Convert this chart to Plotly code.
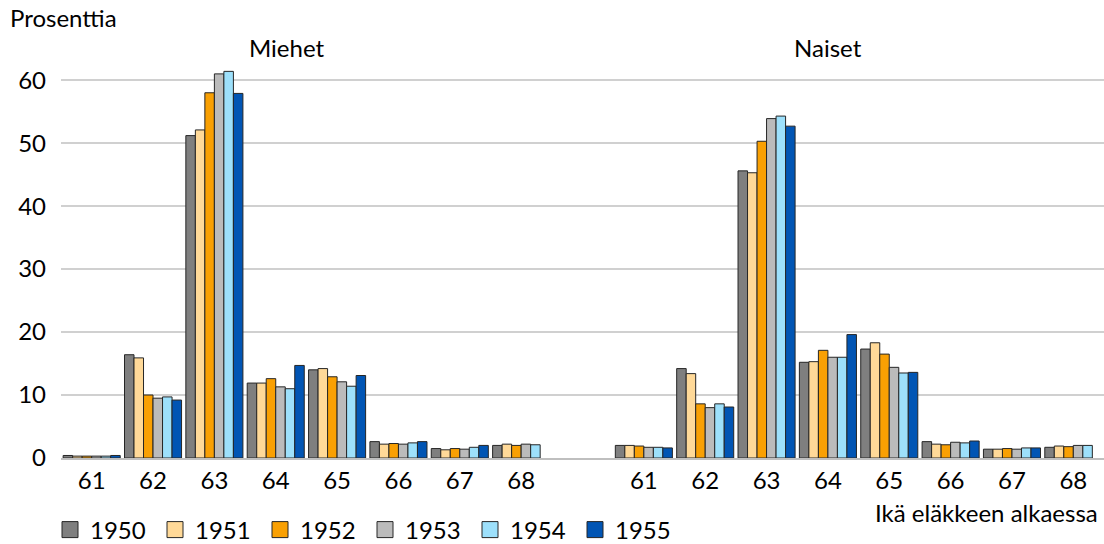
import plotly.graph_objects as go

ages = ["61", "62", "63", "64", "65", "66", "67", "68"]
years = ["1950", "1951", "1952", "1953", "1954", "1955"]
colors = ["#7F7F7F", "#FFD998", "#F9A003", "#BBBBBB", "#9DE0FB", "#0155B4"]

# Miehet (men), by birth year
men_1950 = [0.4, 16.4, 51.2, 11.9, 14.0, 2.6, 1.5, 2.0]
men_1951 = [0.3, 15.9, 52.1, 11.9, 14.2, 2.2, 1.3, 2.2]
men_1952 = [0.3, 10.0, 58.0, 12.6, 12.9, 2.3, 1.5, 2.0]
men_1953 = [0.3, 9.5, 61.0, 11.3, 12.1, 2.2, 1.4, 2.2]
men_1954 = [0.3, 9.7, 61.4, 11.0, 11.4, 2.4, 1.7, 2.1]
men_1955 = [0.4, 9.2, 57.9, 14.7, 13.1, 2.6, 2.0, None]

# Naiset (women), by birth year
women_1950 = [2.0, 14.2, 45.6, 15.2, 17.3, 2.6, 1.4, 1.7]
women_1951 = [2.0, 13.4, 45.3, 15.3, 18.3, 2.2, 1.4, 1.9]
women_1952 = [1.9, 8.6, 50.3, 17.1, 16.5, 2.1, 1.5, 1.8]
women_1953 = [1.7, 8.0, 53.9, 16.0, 14.4, 2.5, 1.4, 2.0]
women_1954 = [1.7, 8.6, 54.3, 16.0, 13.5, 2.4, 1.6, 2.0]
women_1955 = [1.6, 8.1, 52.7, 19.6, 13.6, 2.7, 1.6, None]

men = [men_1950, men_1951, men_1952, men_1953, men_1954, men_1955]
women = [women_1950, women_1951, women_1952, women_1953, women_1954, women_1955]

y_ticks = [0, 10, 20, 30, 40, 50, 60]

FONT = "Lato"
FS = 24

men_keys = ["M" + a for a in ages]
women_keys = ["N" + a for a in ages]
gap_key = ["gap"]
categories = men_keys + gap_key + women_keys

fig = go.Figure()
for i, yr in enumerate(years):
    fig.add_trace(go.Bar(
        x=categories,
        y=men[i] + [None] + women[i],
        name=yr, legendgroup=yr, showlegend=False,
        marker=dict(color=colors[i], line=dict(color="#262626", width=1)),
    ))
    # legend entry with a larger square swatch
    fig.add_trace(go.Scatter(
        x=[categories[0]], y=[None], mode="markers", name=yr, legendgroup=yr,
        marker=dict(symbol="square", size=20, color=colors[i],
                    line=dict(color="#262626", width=1)),
        hoverinfo="skip",
    ))

W, H = 1104, 544
L, R, T, B = 61, 0, 55, 86
pw = W - L - R
ph = H - T - B

def px(xp):
    return (xp - L) / pw

def py(yp):
    return (H - B - yp) / ph

fig.update_layout(
    width=W, height=H,
    margin=dict(l=L, r=R, t=T, b=B, autoexpand=False),
    paper_bgcolor="white", plot_bgcolor="white",
    barmode="group", bargap=0.07, bargroupgap=0,
    font=dict(family=FONT, size=FS, color="#000000"),
    xaxis=dict(
        type="category", categoryorder="array", categoryarray=categories,
        tickvals=men_keys + women_keys, ticktext=ages + ages,
        showgrid=False, showline=True, linecolor="#BFBFBF", linewidth=1.5,
        ticks="", tickfont=dict(family=FONT, size=FS),
        range=[-0.5, len(categories) - 0.5],
    ),
    yaxis=dict(
        range=[0, 64], tickvals=y_ticks, ticktext=[str(v) for v in y_ticks],
        showgrid=True, gridcolor="#D0D0D0", gridwidth=1.5,
        zeroline=False, showline=False, ticks="",
        ticklabelstandoff=14, tickfont=dict(family=FONT, size=FS),
    ),
    legend=dict(
        orientation="h", x=px(50), xanchor="left", y=py(530), yanchor="middle",
        font=dict(family=FONT, size=FS), entrywidth=60, entrywidthmode="pixels",
        itemwidth=30, traceorder="normal", bgcolor="rgba(0,0,0,0)",
    ),
    showlegend=True,
    annotations=[
        dict(text="Prosenttia", xref="paper", yref="paper", x=px(8), y=py(18),
             xanchor="left", yanchor="middle", showarrow=False,
             font=dict(family=FONT, size=FS)),
        dict(text="Miehet", xref="paper", yref="paper", x=px(287), y=py(48),
             xanchor="center", yanchor="middle", showarrow=False,
             font=dict(family=FONT, size=FS)),
        dict(text="Naiset", xref="paper", yref="paper", x=px(828), y=py(48),
             xanchor="center", yanchor="middle", showarrow=False,
             font=dict(family=FONT, size=FS)),
        dict(text="Ikä eläkkeen alkaessa", xref="paper", yref="paper", x=px(1100), y=py(512),
             xanchor="right", yanchor="middle", showarrow=False,
             font=dict(family=FONT, size=FS)),
    ],
)

fig.write_html("out.html", config={"displayModeBar": False},
               post_script="document.body.style.margin='0';")
